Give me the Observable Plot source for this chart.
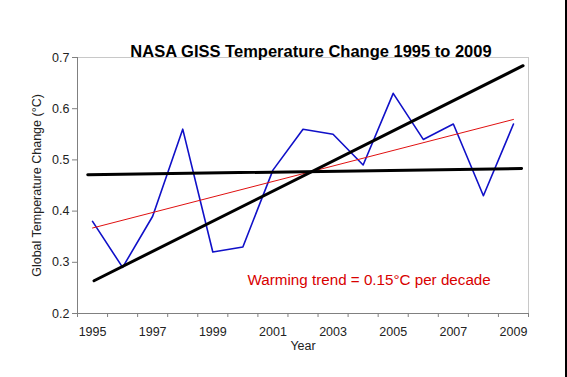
<!DOCTYPE html>
<html>
<head>
<meta charset="utf-8">
<script src="https://cdn.jsdelivr.net/npm/d3@7"></script>
<script src="https://cdn.jsdelivr.net/npm/@observablehq/plot@0.6"></script>
<style>
  html, body { margin: 0; padding: 0; background: #fff; }
  #wrap { position: relative; width: 567px; height: 377px; overflow: hidden; }
  #wrap::after { content: ""; position: absolute; top: 0; right: 0; width: 2px; height: 377px; background: #000; }
</style>
</head>
<body>
<div id="wrap"></div>
<script>
const years = [1995,1996,1997,1998,1999,2000,2001,2002,2003,2004,2005,2006,2007,2008,2009];
const anomalies = [0.38,0.29,0.39,0.56,0.32,0.33,0.48,0.56,0.55,0.49,0.63,0.54,0.57,0.43,0.57];
const trendYears = [1995, 2009];
const trendValues = [0.367, 0.579];
const steepYears = [1995.05, 2009.32];
const steepValues = [0.264, 0.684];
const flatYears = [1994.84, 2009.27];
const flatValues = [0.471, 0.483];
const yTicks = [0.2,0.3,0.4,0.5,0.6,0.7];
const xLabelYears = [1995,1997,1999,2001,2003,2005,2007,2009];
const categoryEdges = [1994.5,1995.5,1996.5,1997.5,1998.5,1999.5,2000.5,2001.5,2002.5,2003.5,2004.5,2005.5,2006.5,2007.5,2008.5,2009.5];
const title = "NASA GISS Temperature Change 1995 to 2009";
const yLabel = "Global Temperature Change (°C)";
const xLabel = "Year";
const note = [{x: 2004.2, y: 0.266, text: "Warming trend = 0.15°C per decade"}];

const series = years.map((d, i) => ({year: d, value: anomalies[i]}));
const trend = trendYears.map((d, i) => ({year: d, value: trendValues[i]}));
const steep = steepYears.map((d, i) => ({year: d, value: steepValues[i]}));
const flat = flatYears.map((d, i) => ({year: d, value: flatValues[i]}));

const chart = Plot.plot({
  width: 567,
  height: 377,
  marginLeft: 77,
  marginRight: 39,
  marginTop: 57,
  marginBottom: 64,
  style: {fontFamily: "'Liberation Sans', Arial, sans-serif", fontSize: "12px", color: "#000", background: "#fff"},
  x: {type: "linear", domain: [1994.5, 2009.5]},
  y: {domain: [0.2, 0.7]},
  marks: [
    Plot.ruleY([0.7], {stroke: "#c8c8c8", strokeWidth: 1}),
    Plot.ruleX([2009.5], {stroke: "#c8c8c8", strokeWidth: 1}),
    Plot.ruleX([1994.5], {stroke: "#808080", strokeWidth: 1}),
    Plot.ruleY([0.2], {stroke: "#808080", strokeWidth: 1}),
    Plot.axisY({ticks: yTicks, tickSize: 5, tickPadding: 3, tickFormat: d3.format(".1f"), stroke: "#808080", fill: "#222", label: null, fontSize: 12.5}),
    Plot.axisX({ticks: categoryEdges, tickSize: 4, tickFormat: () => "", stroke: "#808080", label: null}),
    Plot.axisX({ticks: xLabelYears, tickSize: 0, tickPadding: 14, tickFormat: d3.format("d"), fill: "#222", label: null, fontSize: 12.5}),
    Plot.text([yLabel], {frameAnchor: "left", textAnchor: "middle", rotate: -90, dx: -41, fontSize: 12.5, fill: "#222"}),
    Plot.text([xLabel], {frameAnchor: "bottom", dy: 36, fontSize: 12.5, fill: "#222"}),
    Plot.text([title], {frameAnchor: "top", dx: 8, dy: -12, fontSize: 16.5, fontWeight: "bold", fill: "#000"}),
    Plot.line(series, {x: "year", y: "value", stroke: "#1010c8", strokeWidth: 1.6}),
    Plot.line(trend, {x: "year", y: "value", stroke: "#e01010", strokeWidth: 1}),
    Plot.line(flat, {x: "year", y: "value", stroke: "#000", strokeWidth: 3}),
    Plot.line(steep, {x: "year", y: "value", stroke: "#000", strokeWidth: 3}),
    Plot.text(note, {x: "x", y: "y", text: "text", fill: "#d80000", fontSize: 15.2})
  ]
});
document.getElementById("wrap").appendChild(chart);
</script>
</body>
</html>
